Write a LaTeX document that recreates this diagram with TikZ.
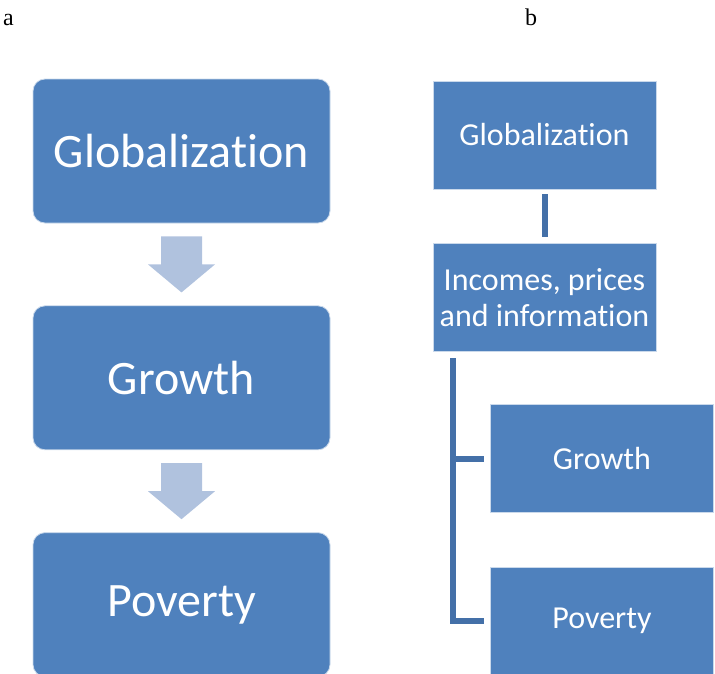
\documentclass[tikz,border=0pt]{standalone}
\usepackage{fontspec}
\setmainfont{Liberation Serif}
\newfontfamily\calibri[Ligatures=NoCommon]{Carlito}
\usetikzlibrary{calc,positioning}
\definecolor{boxblue}{HTML}{4F81BD}
\definecolor{arrowblue}{HTML}{B0C2DE}
\definecolor{linkblue}{HTML}{4470A8}
\tikzset{
    box/.style={rectangle, fill=boxblue, draw=white!70!boxblue, line width=0.8pt, text=white, align=center, inner sep=0pt},
    bigbox/.style={box, rounded corners=12pt, minimum width=297pt, minimum height=144pt, font=\calibri\fontsize{48}{54}\selectfont},
    smallbox/.style={box, minimum width=223pt, minimum height=108pt, font=\calibri\fontsize{32}{36}\selectfont},
    link/.style={draw=linkblue, line width=6pt},
    panel/.style={anchor=base, inner sep=0pt, font=\fontsize{24}{24}\selectfont}}
% block arrow from the bottom of #1 to the top of #2
\newcommand{\blockarrow}[2]{%
    \fill[arrowblue] let \p1=(#1.south), \p2=(#2.north) in
    (\x1-20.5pt,\y1-13pt) -- (\x1+20.5pt,\y1-13pt) -- (\x1+20.5pt,\y2+41pt)
    -- (\x1+33.5pt,\y2+41pt) -- (\x1,\y2+13pt) -- (\x1-33.5pt,\y2+41pt)
    -- (\x1-20.5pt,\y2+41pt) -- cycle;}

\begin{document}
\begin{tikzpicture}[x=1pt,y=-1pt]
    \useasboundingbox (0,0) rectangle (715,673);

    \node[panel] (pa) at (8.5,25) {a};
    \node[panel] (pb) at (531,25) {b};

    % panel a
    \node[bigbox] (globl) at (181.5,151) {Globalization};
    \node[bigbox, below=82pt of globl] (growl) {Growth};
    \node[bigbox, below=82pt of growl] (povl) {Poverty};
    \blockarrow{globl}{growl}
    \blockarrow{growl}{povl}

    % panel b
    \node[smallbox] (globr) at (544.5,135) {Globalization};
    \node[smallbox, below=54pt of globr] (inc) {Incomes, prices\\and information};
    \node[smallbox] (growr) at (602,458.5) {Growth};
    \node[smallbox, below=54pt of growr] (povr) {Poverty};

    \path[link, shorten <=5pt, shorten >=6pt] (globr.south) -- (inc.north);
    \path[link] ([xshift=20pt,yshift=-6pt]inc.south west) |- ([xshift=-6pt]povr.west);
    \path[link] ([xshift=20pt]inc.south west |- growr.west) -- ([xshift=-6pt]growr.west);
\end{tikzpicture}
\end{document}
